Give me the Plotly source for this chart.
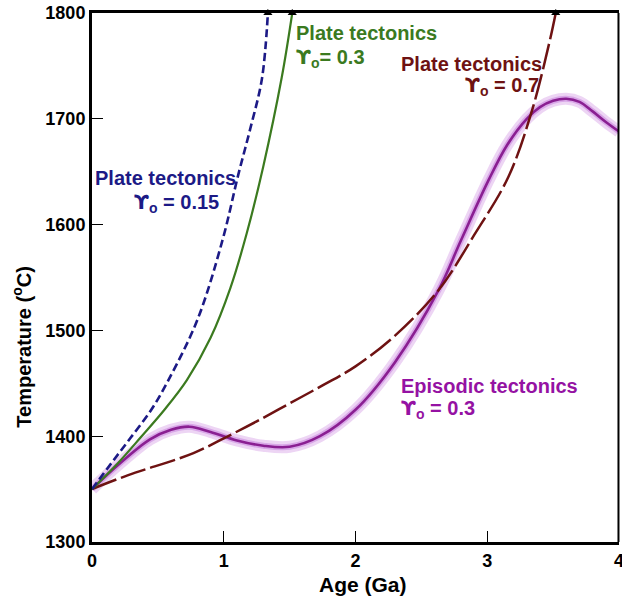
import plotly.graph_objects as go

# Data (Age in Ga, Temperature in °C)
blue_age = [0, 0.15, 0.29, 0.45, 0.58, 0.8, 0.99, 1.11, 1.2, 1.29, 1.335]
blue_temp = [1350, 1375, 1398, 1425, 1453, 1510, 1585, 1647, 1690, 1738, 1800]

green_age = [0, 0.2, 0.37, 0.55, 0.72, 0.9, 1.05, 1.175, 1.3, 1.44, 1.52]
green_temp = [1350, 1375, 1399, 1425, 1453, 1493, 1540, 1592, 1655, 1739, 1800]

brown_age = [0, 0.27, 0.77, 1.0, 1.25, 1.5, 1.75, 2.0, 2.3, 2.63, 2.9, 3.16, 3.34, 3.475, 3.52]
brown_temp = [1350, 1363, 1384, 1398, 1414, 1431, 1448, 1466, 1495, 1538, 1590, 1645, 1708, 1774, 1800]

purple_age = [0, 0.2, 0.44, 0.6, 0.74, 0.9, 1.1, 1.3, 1.5, 1.73, 2.0, 2.3, 2.63, 2.8,
              3.01, 3.15, 3.3, 3.4, 3.5, 3.6, 3.7, 3.8, 3.9, 4.0]
purple_temp = [1350, 1373, 1397, 1406, 1409, 1404, 1396, 1391, 1390, 1400, 1425, 1470, 1538, 1585,
               1642, 1675, 1700, 1711, 1717, 1719, 1716, 1707, 1697, 1688]

arrow_age = [1.335, 1.52, 3.52]
arrow_temp = [1800, 1800, 1800]

x_ticks = [0, 1, 2, 3, 4]
y_ticks = [1300, 1400, 1500, 1600, 1700, 1800]

BLUE = "#1c1a86"
GREEN = "#3b7a1f"
BROWN = "#6e1212"
PURPLE = "#8a1f92"
PURPLE_TXT = "#9512a3"
FONT = "Liberation Sans, Arial, sans-serif"
GAMMA = '<span style="font-family:DejaVu Sans">ϒ</span><sub>o</sub>'

fig = go.Figure()

fig.add_trace(go.Scatter(x=purple_age, y=purple_temp, mode="lines",
                         line=dict(color="rgba(210,150,228,0.4)", width=12, shape="spline"),
                         hoverinfo="skip", showlegend=False))
fig.add_trace(go.Scatter(x=purple_age, y=purple_temp, mode="lines",
                         line=dict(color="rgba(200,130,222,0.55)", width=6, shape="spline"),
                         hoverinfo="skip", showlegend=False))
fig.add_trace(go.Scatter(x=purple_age, y=purple_temp, mode="lines",
                         line=dict(color=PURPLE, width=2.6, shape="spline"),
                         showlegend=False))
fig.add_trace(go.Scatter(x=brown_age, y=brown_temp, mode="lines",
                         line=dict(color=BROWN, width=2.5, dash="26px,5px", shape="spline"),
                         showlegend=False))
fig.add_trace(go.Scatter(x=green_age, y=green_temp, mode="lines",
                         line=dict(color=GREEN, width=2.2, shape="spline"),
                         showlegend=False))
fig.add_trace(go.Scatter(x=blue_age, y=blue_temp, mode="lines",
                         line=dict(color=BLUE, width=2.6, dash="8px,4px", shape="spline"),
                         showlegend=False))
fig.add_trace(go.Scatter(x=arrow_age, y=arrow_temp, mode="markers",
                         marker=dict(symbol="triangle-up", size=8, color="black"),
                         cliponaxis=False, showlegend=False))

def label(x, y, text, color, anchor):
    fig.add_annotation(x=x, y=y, xref="x", yref="y", text="<b>" + text + "</b>",
                       showarrow=False, xanchor=anchor, yanchor="middle",
                       font=dict(family=FONT, size=20, color=color))

label(1.535, 1781, "Plate tectonics", GREEN, "left")
label(1.535, 1757.5, GAMMA + "= 0.3", GREEN, "left")
label(3.43, 1752, "Plate tectonics", BROWN, "right")
label(3.405, 1731, GAMMA + " = 0.7", BROWN, "right")
label(1.105, 1644, "Plate tectonics", BLUE, "right")
label(0.98, 1620, GAMMA + " = 0.15", BLUE, "right")
label(2.33, 1447, "Episodic tectonics", PURPLE_TXT, "left")
label(2.33, 1426, GAMMA + " = 0.3", PURPLE_TXT, "left")

# axis titles (placed like the reference)
fig.add_annotation(x=0.515, y=-0.081, xref="paper", yref="paper", showarrow=False,
                   text="<b>Age (Ga)</b>", xanchor="center", yanchor="middle",
                   font=dict(family=FONT, size=21, color="black"))
fig.add_annotation(x=-0.133, y=0.369, xref="paper", yref="paper", showarrow=False,
                   text="<b>Temperature (<sup>o</sup>C)</b>", textangle=-90,
                   xanchor="center", yanchor="middle",
                   font=dict(family=FONT, size=20, color="black"))

# right border (thinner)
fig.add_shape(type="line", xref="paper", yref="paper", x0=0.999, x1=0.999, y0=0, y1=1,
              line=dict(color="black", width=2))

fig.update_layout(
    width=622, height=605,
    margin=dict(l=92, r=3, t=13, b=63),
    plot_bgcolor="white", paper_bgcolor="white",
    font=dict(family=FONT, color="black"),
    showlegend=False,
)
fig.update_xaxes(
    range=[0, 4], tickvals=x_ticks, ticktext=["<b>%d</b>" % v for v in x_ticks],
    ticks="inside", ticklen=11, tickwidth=1.2, tickcolor="black",
    showline=True, linewidth=3, linecolor="black", mirror=True,
    showgrid=False, zeroline=False, ticklabeloverflow="allow", automargin=False,
    tickfont=dict(family=FONT, size=18, color="black"),
)
fig.update_yaxes(
    range=[1300, 1800], tickvals=y_ticks, ticktext=["<b>%d</b>" % v for v in y_ticks],
    ticks="inside", ticklen=11, tickwidth=1.2, tickcolor="black",
    showline=True, linewidth=3, linecolor="black", mirror=False,
    showgrid=False, zeroline=False, ticklabeloverflow="allow", automargin=False,
    tickfont=dict(family=FONT, size=18, color="black"),
)

fig.write_html("out.html")
